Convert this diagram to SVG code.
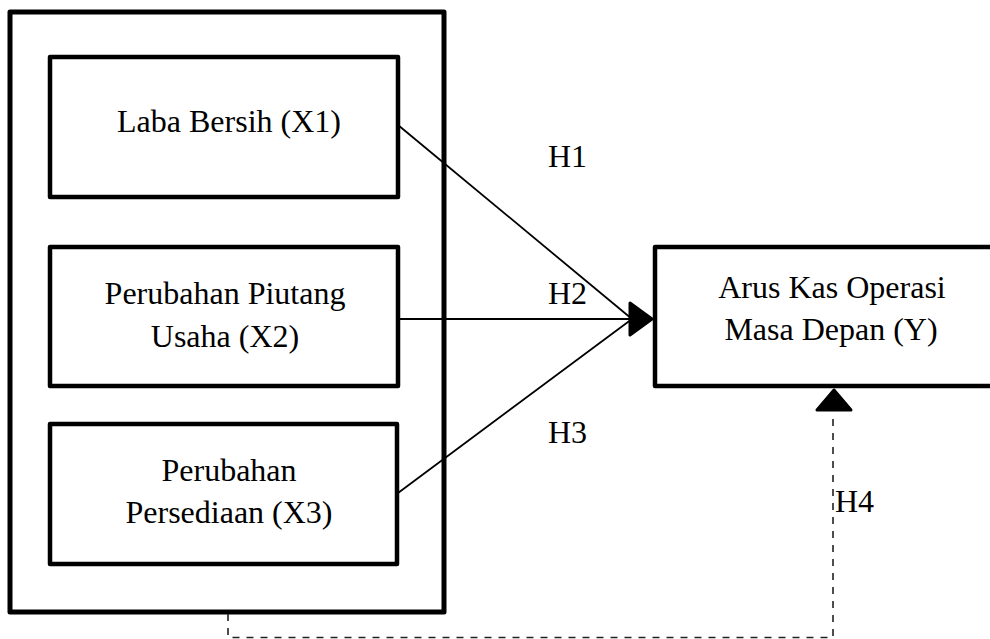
<svg xmlns="http://www.w3.org/2000/svg" width="990" height="639" viewBox="0 0 990 639">
<defs>
<style>
.box{fill:#fff;stroke:#000;stroke-width:4.5;stroke-linejoin:round}
.outer{fill:#fff;stroke:#000;stroke-width:5;stroke-linejoin:round}
.t{font-family:"Liberation Serif","Times New Roman",serif;font-size:32px;fill:#000;text-anchor:middle}
.h{font-family:"Liberation Serif","Times New Roman",serif;font-size:32px;fill:#000}
.c{stroke:#000;stroke-width:1.8;fill:none}
.d{stroke:#222;stroke-width:1.6;fill:none;stroke-dasharray:7 7}
.ah{fill:#000;stroke:#000;stroke-width:3;stroke-linejoin:round}
</style>
</defs>
<rect width="990" height="639" fill="#fff"/>
<g id="group-x">
<rect class="outer" x="10" y="12" width="434" height="600"/>
</g>
<g id="node-x1">
<rect class="box" x="50" y="57" width="348" height="140"/>
<text class="t" x="229" y="132">Laba Bersih (X1)</text>
</g>
<g id="node-x2">
<rect class="box" x="50" y="247" width="348" height="139"/>
<text class="t" x="225" y="304">Perubahan Piutang</text>
<text class="t" x="225" y="347">Usaha (X2)</text>
</g>
<g id="node-x3">
<rect class="box" x="50" y="424" width="347" height="140"/>
<text class="t" x="229" y="481">Perubahan</text>
<text class="t" x="229" y="523">Persediaan (X3)</text>
</g>
<g id="node-y">
<rect class="box" x="655" y="247" width="345" height="139"/>
<text class="t" x="832" y="298">Arus Kas Operasi</text>
<text class="t" x="831" y="340">Masa Depan (Y)</text>
</g>
<g id="connectors">
<line class="c" x1="398" y1="125" x2="632" y2="319"/>
<line class="c" x1="398" y1="319" x2="632" y2="319"/>
<line class="c" x1="398" y1="493" x2="632" y2="319"/>
<polygon class="ah" points="630,303 652,319 630,335"/>
<path class="d" d="M228 614 V637.5 H833 V412"/>
<polygon class="ah" points="817,410 834,390 851,410"/>
<text class="h" x="548" y="167">H1</text>
<text class="h" x="548" y="304">H2</text>
<text class="h" x="548" y="443">H3</text>
<text class="h" x="835" y="512">H4</text>
</g>
</svg>
